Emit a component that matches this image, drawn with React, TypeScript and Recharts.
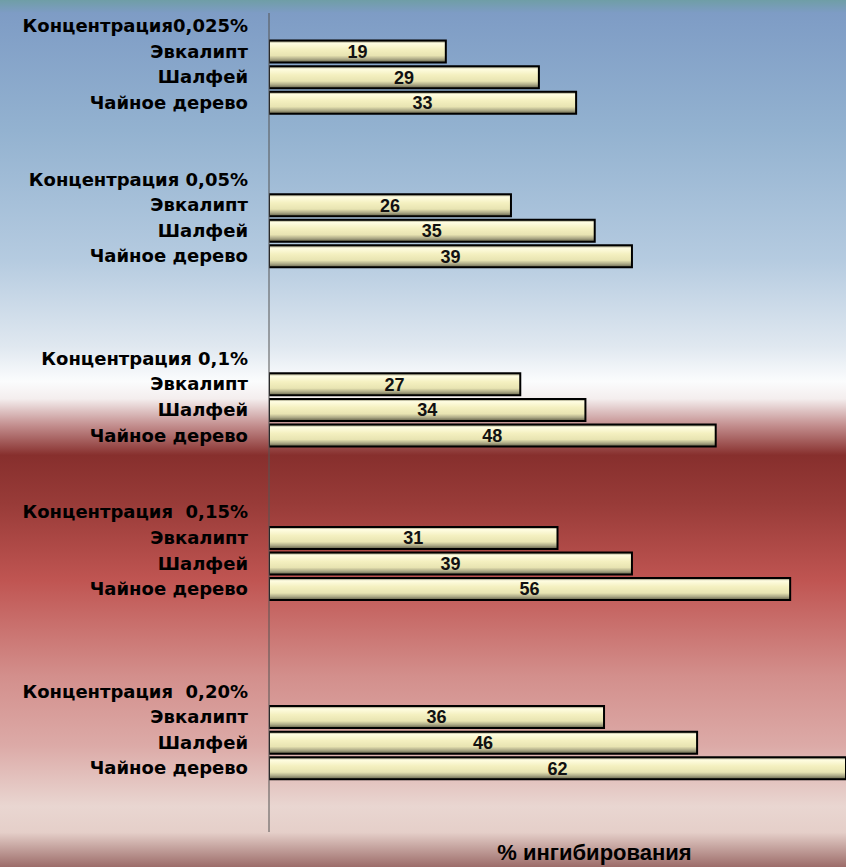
import React from 'react';
import { BarChart, Bar, XAxis, YAxis, LabelList } from 'recharts';

// group headings and species, values in % inhibition
const groupTitles = [
  'Концентрация0,025%',
  'Концентрация 0,05%',
  'Концентрация 0,1%',
  'Концентрация  0,15%',
  'Концентрация  0,20%',
];
const species = ['Эвкалипт', 'Шалфей', 'Чайное дерево'];
const eucalyptus = [19, 26, 27, 31, 36];
const sage = [29, 35, 34, 39, 46];
const teaTree = [33, 39, 48, 56, 62];
const axisTitle = '% ингибирования';

// blank rows after each group (layout only)
const gapRows = [2, 3, 2, 3, 2];

type Row = { key: string; label: string; value: number | null };

const rows: Row[] = [];
groupTitles.forEach((title, g) => {
  rows.push({ key: `h${g}`, label: title, value: null });
  const vals = [eucalyptus[g], sage[g], teaTree[g]];
  species.forEach((s, i) => rows.push({ key: `r${g}-${i}`, label: s, value: vals[i] }));
  for (let k = 0; k < gapRows[g]; k++) rows.push({ key: `g${g}-${k}`, label: '', value: null });
});
const labelByKey: Record<string, string> = {};
rows.forEach((r) => (labelByKey[r.key] = r.label));

const labelFont = '"DejaVu Sans", sans-serif';

const CategoryTick = (props: any) => {
  const { x, y, payload } = props;
  const text = labelByKey[payload.value] || '';
  if (!text) return null;
  return (
    <text
      x={x - 13}
      y={y}
      dy="0.35em"
      textAnchor="end"
      fill="#000"
      fontSize={18}
      fontWeight="bold"
      fontFamily={labelFont}
      style={{ whiteSpace: 'pre' }}
      xmlSpace="preserve"
    >
      {text}
    </text>
  );
};

const bgGradient =
  'linear-gradient(to bottom, #6f9ea6 0%, #7e9cc5 1.5%, #93b2d0 15%, #b5cbe0 30%, #e0e8f0 40%, #fbfcfd 44%, #f4eeee 46%, #c49090 49%, #872f2d 52.5%, #983b38 58%, #c05552 67%, #d38f8c 78%, #dcaaa7 86%, #e9d6d1 93%, #e5cfc9 96%, #9c6c69 100%)';

export default function App() {
  return (
    <div
      style={{
        position: 'absolute',
        left: 0,
        top: 0,
        width: 846,
        height: 867,
        background: bgGradient,
      }}
    >
      <BarChart
        width={846}
        height={867}
        data={rows}
        layout="vertical"
        margin={{ top: 13, right: 0, bottom: 0, left: 0 }}
        barSize={22}
      >
        <defs>
          <linearGradient id="barFill" x1="0" y1="0" x2="0" y2="1">
            <stop offset="0%" stopColor="#6e6b4e" />
            <stop offset="12%" stopColor="#fffde2" />
            <stop offset="40%" stopColor="#f4f0c0" />
            <stop offset="68%" stopColor="#e8e4b2" />
            <stop offset="85%" stopColor="#aaa785" />
            <stop offset="100%" stopColor="#5f5d45" />
          </linearGradient>
        </defs>
        <XAxis
          type="number"
          domain={[0, 62]}
          allowDataOverflow
          tick={false}
          axisLine={false}
          tickLine={false}
          height={35}
          label={{
            value: axisTitle,
            position: 'insideBottom',
            offset: 7,
            dx: 37,
            fill: '#000',
            fontSize: 22,
            fontWeight: 'bold',
            fontFamily: '"Liberation Sans", Arial, sans-serif',
          }}
        />
        <YAxis
          type="category"
          dataKey="key"
          width={269}
          interval={0}
          tickLine={false}
          axisLine={{ stroke: '#555', strokeWidth: 1 }}
          tick={<CategoryTick />}
        />
        <Bar
          dataKey="value"
          fill="url(#barFill)"
          stroke="#000"
          strokeWidth={2}
          isAnimationActive={false}
        >
          <LabelList
            dataKey="value"
            position="center"
            formatter={(v: any) => (v == null ? '' : v)}
            fill="#111"
            fontSize={18}
            fontWeight="bold"
            fontFamily='"Liberation Sans", Arial, sans-serif'
          />
        </Bar>
      </BarChart>
    </div>
  );
}
